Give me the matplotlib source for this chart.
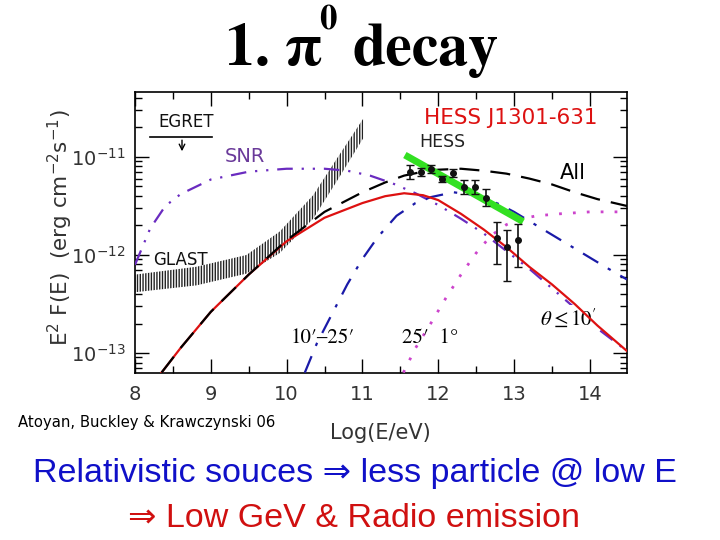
import numpy as np
import matplotlib
matplotlib.use("Agg")
import matplotlib.pyplot as plt
from matplotlib.ticker import MultipleLocator, LogLocator, NullFormatter

# model curves, log10(E/eV) vs log10(E^2 F(E))
x_all = [8.35, 8.6, 9.0, 9.5, 10.0, 10.5, 11.0, 11.3, 11.55, 11.8, 12.0, 12.3, 12.6, 12.9, 13.2, 13.5, 13.8, 14.1, 14.49]
y_all = [-13.2, -12.95, -12.58, -12.2, -11.85, -11.56, -11.36, -11.26, -11.19, -11.15, -11.13, -11.12, -11.14, -11.17, -11.22, -11.28, -11.36, -11.43, -11.5]

x_in = [8.35, 8.6, 9.0, 9.5, 10.0, 10.5, 11.0, 11.3, 11.55, 11.8, 12.0, 12.3, 12.6, 12.9, 13.2, 13.5, 13.8, 14.1, 14.49]
y_in = [-13.2, -12.95, -12.58, -12.2, -11.86, -11.62, -11.47, -11.40, -11.37, -11.39, -11.44, -11.58, -11.74, -11.92, -12.12, -12.3, -12.5, -12.72, -12.98]

x_snr = [8.0, 8.2, 8.4, 8.6, 9.0, 9.5, 10.0, 10.5, 10.8, 11.1, 11.4, 11.7, 12.0, 12.3, 12.6, 12.9, 13.2, 13.5, 13.8, 14.1, 14.49]
y_snr = [-12.10, -11.73, -11.5, -11.38, -11.23, -11.15, -11.12, -11.12, -11.14, -11.19, -11.27, -11.37, -11.49, -11.63, -11.78, -11.96, -12.14, -12.34, -12.54, -12.75, -12.98]

x_mid = [10.24, 10.4, 10.6, 10.8, 11.0, 11.2, 11.45, 11.7, 11.9, 12.2, 12.5, 12.8, 13.0, 13.3, 13.6, 13.9, 14.2, 14.49]
y_mid = [-13.2, -12.9, -12.6, -12.3, -12.04, -11.82, -11.6, -11.47, -11.41, -11.36, -11.39, -11.48, -11.56, -11.7, -11.84, -11.98, -12.12, -12.25]

x_out = [11.54, 11.7, 11.9, 12.1, 12.3, 12.5, 12.7, 12.9, 13.1, 13.3, 13.6, 14.0, 14.49]
y_out = [-13.2, -12.95, -12.7, -12.44, -12.2, -11.98, -11.8, -11.69, -11.63, -11.6, -11.58, -11.56, -11.56]

# GLAST sensitivity band
x_glast = [8.0, 8.81, 9.47, 9.91, 10.35, 10.66, 11.01]
glast_hi = [-12.20, -12.12, -12.0, -11.76, -11.39, -11.02, -10.61]
glast_lo = [-12.38, -12.31, -12.19, -11.98, -11.63, -11.25, -10.81]

# HESS points
x_hess = [11.63, 11.77, 11.91, 12.05, 12.20, 12.34, 12.48, 12.63, 12.77, 12.91, 13.05]
y_hess = [-11.156, -11.156, -11.122, -11.224, -11.166, -11.303, -11.303, -11.415, -11.83, -11.92, -11.85]
err_up = [0.07, 0.04, 0.04, 0.03, 0.04, 0.07, 0.07, 0.09, 0.17, 0.18, 0.17]
err_dn = [0.07, 0.04, 0.04, 0.03, 0.04, 0.07, 0.07, 0.09, 0.26, 0.35, 0.27]

# HESS power-law fit (green)
x_fit = [11.56, 13.12]
y_fit = [-10.98, -11.66]

# EGRET upper limit
x_egret = [8.2, 9.02]
y_egret = -10.80

def p(v):
    return 10.0 ** np.asarray(v)

W, H = 720, 540
def fx(px):
    return px / W
def fy(py):
    return 1 - py / H

fig = plt.figure(figsize=(7.2, 5.4), dpi=100)
fig.patch.set_facecolor("white")
ax = fig.add_axes([fx(135), fy(373), (627 - 135) / W, (373 - 92) / H])
ax.set_yscale("log")

ax.fill_between(x_glast, p(glast_lo), p(glast_hi), facecolor="white",
                edgecolor="#222222", hatch="||||||", linewidth=0, zorder=2)

ax.plot(x_in, p(y_in), color="#dd1111", lw=1.6, zorder=4)
ax.plot(x_all, p(y_all), color="black", lw=1.6, ls=(0, (9, 5)), zorder=5)
ax.plot(x_snr, p(y_snr), color="#6a2bc0", lw=1.6, ls=(0, (7, 4, 1, 4, 1, 4)), zorder=3)
ax.plot(x_mid, p(y_mid), color="#1a1aa8", lw=1.6, ls=(0, (8, 5, 1.5, 5)), zorder=3)
ax.plot(x_out, p(y_out), color="#cc44cc", lw=2, ls=(0, (1, 4)), zorder=3)

ax.plot(x_fit, p(y_fit), color="#33e022", lw=5, solid_capstyle="butt", zorder=6)

yh = p(y_hess)
lo = yh - p(np.array(y_hess) - np.array(err_dn))
hi = p(np.array(y_hess) + np.array(err_up)) - yh
ax.errorbar(x_hess, yh, yerr=[lo, hi], fmt="o", color="#111111", ms=4,
            elinewidth=1.2, capsize=3, capthick=1.0, zorder=7)

ax.plot(x_egret, [p(y_egret)] * 2, color="black", lw=1.2)
ax.annotate("", xy=(8.62, p(-10.97)), xytext=(8.62, p(y_egret)),
            arrowprops=dict(arrowstyle="->", color="black", lw=1.0))

ax.set_xlim(8, 14.49)
ax.set_ylim(p(-13.204), p(-10.337))

ax.xaxis.set_major_locator(MultipleLocator(1))
ax.xaxis.set_minor_locator(MultipleLocator(0.5))
ax.yaxis.set_major_locator(LogLocator(base=10))
ax.yaxis.set_minor_locator(LogLocator(base=10, subs=np.arange(2, 10)))
ax.yaxis.set_minor_formatter(NullFormatter())
ax.tick_params(which="both", direction="in", top=True, right=True, colors="black",
               labelcolor="#333333", labelsize=14)
ax.tick_params(which="major", length=10, width=1.0)
ax.tick_params(which="minor", length=5, width=1.0)
ax.tick_params(axis="x", pad=9)
ax.tick_params(axis="y", pad=7)
for s in ax.spines.values():
    s.set_linewidth(1.2)

# labels inside the plot
ax.text(12.95, p(-10.60), "HESS J1301-631", color="#dd1111", fontsize=15.5,
        ha="center", va="center")
ax.text(12.05, p(-10.85), "HESS", color="#222222", fontsize=12.5, ha="center", va="center")
ax.text(9.45, p(-11.0), "SNR", color="#6a3a9a", fontsize=14, ha="center", va="center")
ax.text(13.78, p(-11.16), "All", color="black", fontsize=15, ha="center", va="center")
ax.text(8.6, p(-12.05), "GLAST", color="#111111", fontsize=12, ha="center", va="center")
ax.text(8.67, p(-10.64), "EGRET", color="#111111", fontsize=12, ha="center", va="center")
ax.text(10.48, p(-12.85), "10′–25′", fontsize=15, ha="center", va="center",
        family="STIXGeneral")
ax.text(11.89, p(-12.85), "25′  1°", fontsize=15, ha="center", va="center",
        family="STIXGeneral")
ax.text(13.72, p(-12.64), r"$\theta \leq 10'$", fontsize=15, ha="center", va="center",
        math_fontfamily="stix",
        bbox=dict(facecolor="white", edgecolor="none", pad=1))

# axis labels
fig.text(fx(60), fy(228), r"E$^2$ F(E)  (erg cm$^{-2}$s$^{-1}$)", rotation=90,
         ha="center", va="center", fontsize=15.5, color="#333333")
fig.text(fx(380), fy(433), "Log(E/eV)", ha="center", va="center", fontsize=15,
         color="#333333")
fig.text(fx(18), fy(422), "Atoyan, Buckley & Krawczynski 06", ha="left", va="center",
         fontsize=10.7, color="black")

# title
fig.text(fx(225), fy(65), "1. π", ha="left", va="baseline", fontsize=43,
         fontweight="bold", family="STIXGeneral")
fig.text(fx(319), fy(30), "0", ha="left", va="baseline", fontsize=25,
         fontweight="bold", family="STIXGeneral")
fig.text(fx(352), fy(65), "decay", ha="left", va="baseline", fontsize=43,
         fontweight="bold", family="STIXGeneral")

# bottom comments
fam = ["Liberation Sans", "DejaVu Sans"]
fig.text(fx(355), fy(482), "Relativistic souces ⇒ less particle @ low E", ha="center",
         va="baseline", fontsize=24.5, color="#1010c8", family=fam)
fig.text(fx(354), fy(527), "⇒ Low GeV & Radio emission", ha="center",
         va="baseline", fontsize=24.5, color="#d01010", family=fam)

fig.savefig("out.png", dpi=100, facecolor="white")
